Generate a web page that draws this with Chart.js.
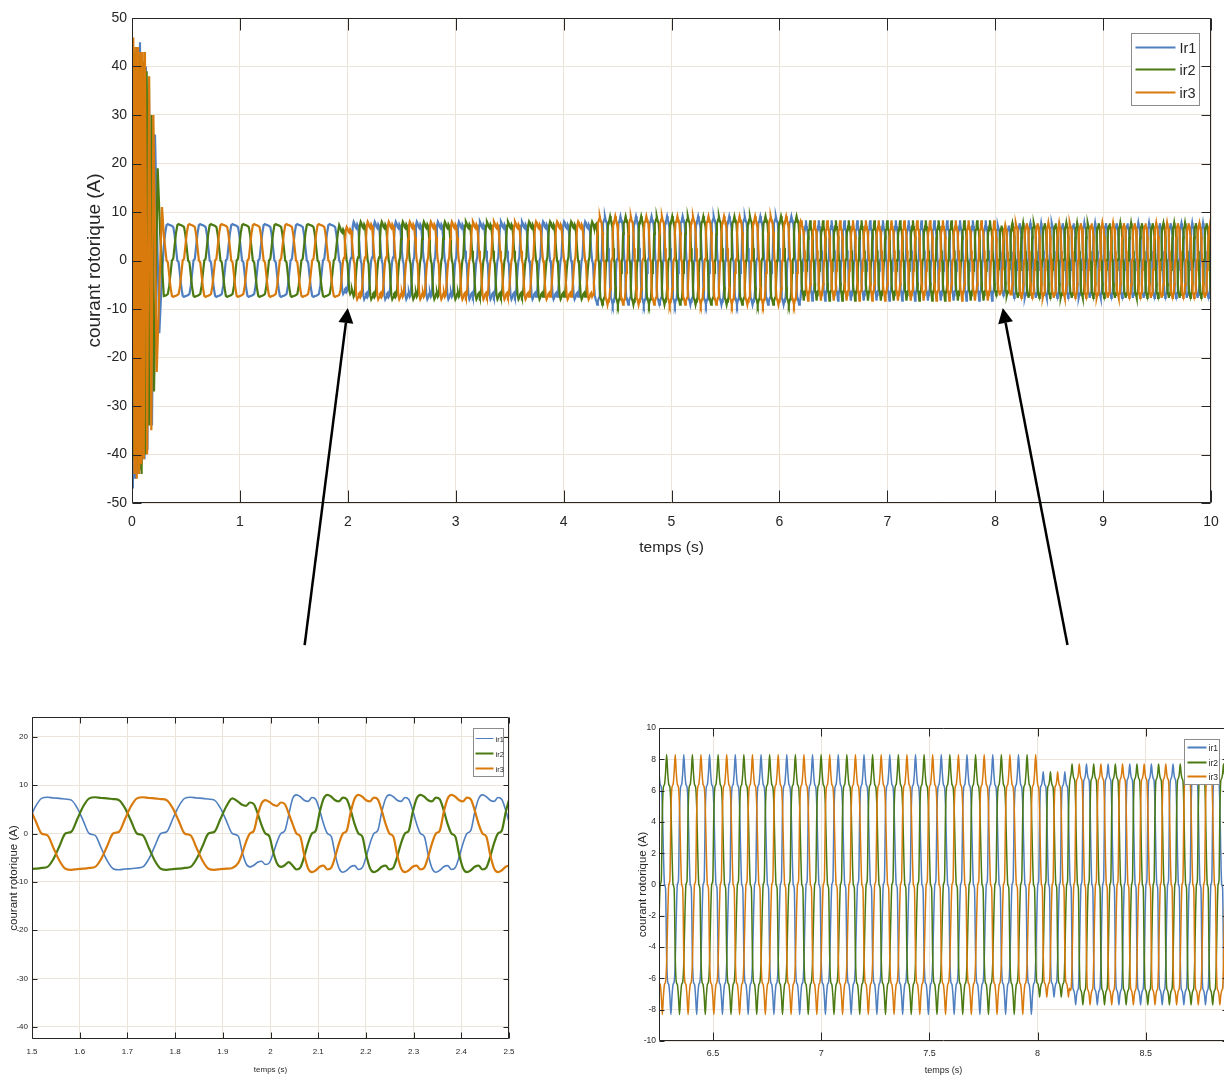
<!DOCTYPE html>
<html>
<head>
<meta charset="utf-8">
<script src="https://cdn.jsdelivr.net/npm/chart.js@4.4.1/dist/chart.umd.min.js"></script>
<style>
html,body{margin:0;padding:0;background:#fff;overflow:hidden;width:1224px;height:1077px;}
canvas{position:absolute;display:block;}
#main{left:0;top:0;width:1224px;height:700px;}
#zoomA{left:0;top:705px;width:520px;height:372px;}
#zoomB{left:625px;top:715px;width:620px;height:362px;}
</style>
</head>
<body>
<canvas id="main" width="1224" height="700"></canvas>
<canvas id="zoomA" width="520" height="372"></canvas>
<canvas id="zoomB" width="620" height="362"></canvas>
<script>
// ---------------- data ----------------
const seriesLabels = ['Ir1', 'ir2', 'ir3'];
const insetLabels  = ['ir1', 'ir2', 'ir3'];

// start-up transient: successive extremes [time (s), current (A)]
const ir1Startup = [[0,0],[0.008,-47],[0.017,43],[0.027,-45],[0.036,44],[0.046,-44],[0.055,43],[0.065,-43],[0.074,45],[0.088,-42],[0.102,41],[0.116,-41],[0.129,40],[0.143,-39],[0.157,36],[0.185,-34],[0.213,26],[0.253,-15],[0.278,-3]];
const ir2Startup = [[0,0],[0.004,32],[0.012,-41],[0.021,43],[0.031,-44],[0.040,43],[0.050,-42],[0.060,42],[0.070,-43],[0.080,42],[0.089,-44],[0.105,41],[0.120,-40],[0.136,39],[0.159,-34],[0.181,30],[0.204,-27],[0.238,19],[0.262,5]];
const ir3Startup = [[0,0],[0.012,46],[0.023,-44],[0.034,44],[0.044,-45],[0.055,44],[0.066,-44],[0.077,43],[0.087,-42],[0.098,43],[0.109,-41],[0.120,43],[0.140,-40],[0.159,38],[0.179,-35],[0.198,30],[0.229,-23],[0.278,11]];

// steady regimes: start time, period of one cycle, peak current, waveform
const segStart  = [0.270, 1.92, 2.04, 4.30, 6.20, 8.00, 8.15];
const segPeriod = [0.300, 0.195, 0.195, 0.144, 0.119, 0.100, 0.100];
const segAmp    = [7.5, 6.9, 8.0, 9.1, 8.3, 7.2, 7.7];
const segShape  = [0, 1, 1, 4, 2, 3, 3];
// one half cycle (12 samples of 24 per cycle) of each waveform, as a fraction of its peak
const halfShapes = [
  [0, 0.05, 0.40, 0.75, 0.97, 1.00, 0.98, 0.97, 0.95, 0.92, 0.70, 0.35],
  [0, 0.08, 0.55, 0.90, 1.00, 0.95, 0.86, 0.83, 0.93, 0.88, 0.60, 0.25],
  [0, 0.03, 0.55, 0.75, 0.77, 0.86, 1.00, 0.86, 0.77, 0.75, 0.60, 0.25],
  [0, 0.03, 0.60, 0.86, 0.88, 0.92, 1.00, 0.92, 0.88, 0.86, 0.65, 0.25],
  [0, 0.04, 0.60, 0.84, 0.88, 0.93, 1.00, 0.93, 0.88, 0.84, 0.65, 0.28]
];
const phaseLag = [0, 8, 16];     // samples of lag of ir1, ir2, ir3
const steadyFrom = 0.29;
const tEnd = 10;

// tick labels
const mainXTicks = [0,1,2,3,4,5,6,7,8,9,10];
const mainYTicks = [-50,-40,-30,-20,-10,0,10,20,30,40,50];
const zoomAXTicks = [1.5,1.6,1.7,1.8,1.9,2,2.1,2.2,2.3,2.4,2.5];
const zoomAYTicks = [-40,-30,-20,-10,0,10,20];
const zoomBXTicks = [6.5,7,7.5,8,8.5];
const zoomBYTicks = [-10,-8,-6,-4,-2,0,2,4,6,8,10];

// ---------------- build the series ----------------
function buildPhase(startup, lag) {
  const pts = startup.map(([t, v]) => ({x: t, y: v}));
  let seg = 0, t = segStart[0], k = 0;
  while (t <= tEnd + 1e-9) {
    while (seg + 1 < segStart.length && t >= segStart[seg + 1]) seg++;
    if (t >= steadyFrom) {
      const half = halfShapes[segShape[seg]];
      const idx = ((k - lag) % 24 + 24) % 24;
      const v = idx < 12 ? half[idx] : -half[idx - 12];
      pts.push({x: t, y: segAmp[seg] * v});
    }
    t += segPeriod[seg] / 24;
    k++;
  }
  return pts;
}
const startups = [ir1Startup, ir2Startup, ir3Startup];

const COLORS = ['#4f7fbf', '#4b7a12', '#d87a0c'];
const SANS = '"Liberation Sans", Arial, sans-serif';
const INK = '#262626';
const GRID = '#ebe4db';

const framePlugin = {
  id: 'frame',
  afterDraw(chart, args, o) {
    const {ctx, chartArea: a, scales: {x, y}} = chart;
    ctx.save();
    ctx.strokeStyle = INK; ctx.lineWidth = 1;
    const L = Math.round(a.left) + 0.5, R = Math.round(a.right) - 0.5;
    const T = Math.round(a.top) + 0.5, B = Math.round(a.bottom) - 0.5;
    ctx.beginPath();
    ctx.rect(L, T, R - L, B - T);
    x.ticks.forEach(tk => {
      const px = Math.round(x.getPixelForValue(tk.value)) + 0.5;
      ctx.moveTo(px, B); ctx.lineTo(px, B - o.tickX);
      ctx.moveTo(px, T); ctx.lineTo(px, T + o.tickX);
    });
    y.ticks.forEach(tk => {
      const py = Math.round(y.getPixelForValue(tk.value)) + 0.5;
      ctx.moveTo(L, py); ctx.lineTo(L + o.tickY, py);
      ctx.moveTo(R, py); ctx.lineTo(R - o.tickY, py);
    });
    ctx.stroke();
    // legend
    const lg = o.legend;
    const bx = Math.round(a.right - lg.right - lg.w) + 0.5, by = Math.round(a.top + lg.top) + 0.5;
    ctx.fillStyle = '#fff';
    ctx.fillRect(bx, by, lg.w, lg.h);
    ctx.strokeStyle = '#8c8c8c';
    ctx.strokeRect(bx, by, lg.w, lg.h);
    ctx.font = lg.font;
    ctx.textBaseline = 'middle';
    ctx.textAlign = 'left';
    chart.data.datasets.forEach((ds, i) => {
      const ry = by + lg.rows[i];
      ctx.strokeStyle = ds.borderColor;
      ctx.lineWidth = lg.lineW[i];
      ctx.beginPath();
      ctx.moveTo(bx + lg.line[0], ry); ctx.lineTo(bx + lg.line[1], ry);
      ctx.stroke();
      ctx.fillStyle = INK;
      ctx.fillText(ds.label, bx + lg.textX, ry + 1);
    });
    // arrows
    (o.arrows || []).forEach(ar => {
      const tx = x.getPixelForValue(ar.tip[0]), ty = y.getPixelForValue(ar.tip[1]);
      const sx = x.getPixelForValue(ar.tail[0]), sy = y.getPixelForValue(ar.tail[1]);
      const ang = Math.atan2(ty - sy, tx - sx);
      const hl = 15, hw = 7.5;
      const bxp = tx - hl * Math.cos(ang), byp = ty - hl * Math.sin(ang);
      ctx.strokeStyle = '#000'; ctx.lineWidth = 2.5;
      ctx.beginPath(); ctx.moveTo(sx, sy); ctx.lineTo(bxp, byp); ctx.stroke();
      ctx.fillStyle = '#000';
      ctx.beginPath();
      ctx.moveTo(tx, ty);
      ctx.lineTo(bxp + hw * Math.sin(ang), byp - hw * Math.cos(ang));
      ctx.lineTo(bxp - hw * Math.sin(ang), byp + hw * Math.cos(ang));
      ctx.closePath(); ctx.fill();
    });
    ctx.restore();
  }
};

function makeChart(id, cfg) {
  const datasets = [0, 1, 2].map(i => ({
    label: cfg.labels[i],
    data: buildPhase(startups[i], phaseLag[i]),
    borderColor: COLORS[i],
    borderWidth: cfg.lineW[i],
    pointRadius: 0,
    fill: false,
    tension: 0,
    cubicInterpolationMode: cfg.smooth ? 'monotone' : 'default',
    order: 3 - i
  }));
  return new Chart(document.getElementById(id), {
    type: 'line',
    data: {datasets},
    plugins: [framePlugin],
    options: {
      responsive: false,
      animation: false,
      parsing: false,
      normalized: true,
      events: [],
      layout: {padding: cfg.padding},
      plugins: {
        legend: {display: false},
        tooltip: {enabled: false},
        frame: cfg.frame
      },
      scales: {
        x: {
          type: 'linear', min: cfg.x.min, max: cfg.x.max,
          afterBuildTicks: s => { s.ticks = cfg.x.ticks.map(v => ({value: v})); },
          afterFit: s => { s.height = cfg.x.h; s.paddingLeft = 0; s.paddingRight = 0; },
          grid: {color: GRID, drawTicks: false, lineWidth: 1},
          border: {display: false},
          ticks: {color: INK, font: {family: SANS, size: cfg.x.fs}, padding: cfg.x.pad, maxRotation: 0, autoSkip: false, callback: v => String(v)},
          title: {display: true, text: 'temps (s)', color: INK, font: {family: SANS, size: cfg.x.tfs}, padding: {top: 0, bottom: cfg.x.tpb}}
        },
        y: {
          type: 'linear', min: cfg.y.min, max: cfg.y.max,
          afterBuildTicks: s => { s.ticks = cfg.y.ticks.map(v => ({value: v})); },
          afterFit: s => { s.width = cfg.y.w; s.paddingTop = 0; s.paddingBottom = 0; },
          grid: {color: GRID, drawTicks: false, lineWidth: 1},
          border: {display: false},
          ticks: {color: INK, font: {family: SANS, size: cfg.y.fs}, padding: cfg.y.pad, autoSkip: false, callback: v => String(v)},
          title: {display: true, text: 'courant rotorique (A)', color: INK, font: {family: SANS, size: cfg.y.tfs}, padding: {top: cfg.y.tpt, bottom: 0}}
        }
      }
    }
  });
}

makeChart('main', {
  labels: seriesLabels, lineW: [2.2, 2.2, 2.2], smooth: false,
  padding: {left: 0, right: 13, top: 18, bottom: 0},
  x: {min: 0, max: 10, ticks: mainXTicks, h: 197, fs: 14, pad: 11, tfs: 15.5, tpb: 143},
  y: {min: -50, max: 50, ticks: mainYTicks, w: 132, fs: 14, pad: 5, tfs: 19, tpt: 83.6},
  frame: {
    tickX: 12, tickY: 9,
    legend: {right: 12, top: 15, w: 68, h: 72, rows: [14, 36, 59], line: [4, 44], textX: 48, font: '14.5px ' + SANS, lineW: [2, 2, 2]},
    arrows: [{tip: [2.0, -9.8], tail: [1.60, -79.3]}, {tip: [8.07, -9.8], tail: [8.67, -79.3]}]
  }
});

makeChart('zoomA', {
  labels: insetLabels, lineW: [1.6, 2.2, 2.2], smooth: true,
  padding: {left: 0, right: 11, top: 12, bottom: 0},
  x: {min: 1.5, max: 2.5, ticks: zoomAXTicks, h: 38, fs: 8, pad: 8, tfs: 8, tpb: 2},
  y: {min: -42.5, max: 24.1, ticks: zoomAYTicks, w: 32, fs: 8, pad: 4, tfs: 11.5, tpt: 7.4},
  frame: {
    tickX: 6, tickY: 5,
    legend: {right: 6, top: 11, w: 30, h: 48, rows: [10, 25, 40], line: [2, 20], textX: 22, font: '7.5px ' + SANS, lineW: [1, 2, 2]}
  }
});

makeChart('zoomB', {
  labels: insetLabels, lineW: [1.5, 1.5, 1.5], smooth: true,
  padding: {left: 0, right: 17, top: 13, bottom: 0},
  x: {min: 6.25, max: 8.88, ticks: zoomBXTicks, h: 36, fs: 9, pad: 7, tfs: 9, tpb: 1},
  y: {min: -10, max: 10, ticks: zoomBYTicks, w: 34, fs: 8.5, pad: 3, tfs: 11.5, tpt: 11.4},
  frame: {
    tickX: 8, tickY: 5,
    legend: {right: 9, top: 11, w: 35, h: 45, rows: [8, 23, 37], line: [3, 22], textX: 24, font: '8.5px ' + SANS, lineW: [2, 2, 2]}
  }
});
</script>
</body>
</html>
